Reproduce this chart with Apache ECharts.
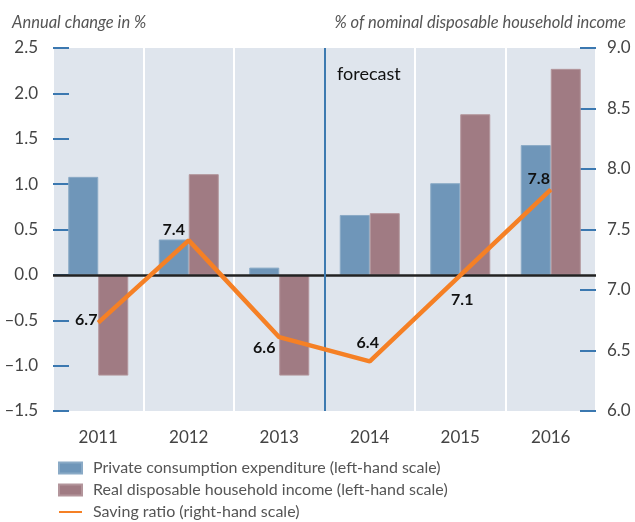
<!DOCTYPE html>
<html>
<head>
<meta charset="utf-8">
<script src="https://cdn.jsdelivr.net/npm/echarts@6/dist/echarts.min.js"></script>
<style>
  html, body { margin: 0; padding: 0; background: #fff; }
  #chart { width: 635px; height: 522px; }
</style>
</head>
<body>
<div id="chart"></div>
<script>
// data
const years = ['2011', '2012', '2013', '2014', '2015', '2016'];
const consumption = [1.08, 0.39, 0.08, 0.66, 1.01, 1.43];
const income = [-1.11, 1.11, -1.11, 0.68, 1.77, 2.27];
const savingRatio = [6.73, 7.41, 6.61, 6.41, 7.12, 7.83];
const forecastStart = 3; // boundary between 2013 and 2014

// where each saving-ratio label sits relative to its point
const labelOffsets = [[-12, -3], [-15, -11], [-15, 11], [-2, -19], [2, 24], [-12, -11]];

const FONT = 'Lato, "Open Sans", sans-serif';
const tickColor = '#3b78b0';

const fmt = (v) => v.toFixed(1).replace('-', '\u2013');

const chart = echarts.init(document.getElementById('chart'));

chart.setOption({
    animation: false,
    textStyle: { fontFamily: FONT },
    title: [
        {
            text: 'Annual change in %',
            left: 7, top: 9,
            textStyle: { fontFamily: FONT, fontSize: 16.5, fontStyle: 'italic', fontWeight: 'normal', color: '#555' }
        },
        {
            text: '% of nominal disposable household income',
            right: 4, top: 9,
            textStyle: { fontFamily: FONT, fontSize: 16.5, fontStyle: 'italic', fontWeight: 'normal', color: '#555' }
        },
        {
            text: 'forecast',
            left: 332, top: 60,
            textStyle: { fontFamily: FONT, fontSize: 18, fontWeight: 'normal', color: '#111' }
        }
    ],
    legend: {
        orient: 'vertical',
        left: 53, top: 455, height: 100,
        itemWidth: 23, itemHeight: 11, itemGap: 6,
        textStyle: { fontFamily: FONT, fontSize: 16, color: '#555', padding: [0, 0, 0, 6] },
        data: [
            { name: 'Private consumption expenditure (left-hand scale)', icon: 'rect' },
            { name: 'Real disposable household income (left-hand scale)', icon: 'rect' },
            { name: 'Saving ratio (right-hand scale)', itemStyle: { opacity: 0 } }
        ]
    },
    grid: {
        left: 53, right: 39, top: 48, bottom: 111,
        show: true, backgroundColor: '#dfe5ed', borderWidth: 0
    },
    xAxis: [
        {
            type: 'category',
            data: years,
            axisLine: { show: false },
            axisTick: { show: false },
            axisLabel: { fontFamily: FONT, fontSize: 17, color: '#444', margin: 18 },
            splitLine: { show: true, interval: 0, lineStyle: { color: '#fff', width: 2 } }
        },
        {
            type: 'value', min: 0, max: years.length, show: false
        }
    ],
    yAxis: [
        {
            type: 'value', min: -1.5, max: 2.5, interval: 0.5,
            axisLine: { show: false },
            axisTick: { show: true, inside: true, length: 16, lineStyle: { color: tickColor, width: 2 } },
            splitLine: { show: false },
            axisLabel: { fontFamily: FONT, fontSize: 17, color: '#444', margin: 15, formatter: fmt }
        },
        {
            type: 'value', min: 6, max: 9, interval: 0.5, position: 'right',
            axisLine: { show: false },
            axisTick: { show: true, inside: true, length: 16, lineStyle: { color: tickColor, width: 2 } },
            splitLine: { show: false },
            axisLabel: { fontFamily: FONT, fontSize: 17, color: '#444', margin: 11, formatter: fmt }
        }
    ],
    series: [
        {
            name: 'Private consumption expenditure (left-hand scale)',
            type: 'bar',
            data: consumption,
            barWidth: 30,
            barGap: '0%',
            itemStyle: { color: '#6f96b9', borderColor: '#8aaac6', borderWidth: 1 },
            markLine: {
                silent: true, symbol: 'none', label: { show: false },
                lineStyle: { color: '#222', width: 2.5, type: 'solid' },
                data: [{ yAxis: 0 }],
                z: 5
            }
        },
        {
            name: 'Real disposable household income (left-hand scale)',
            type: 'bar',
            data: income,
            barWidth: 30,
            itemStyle: { color: '#a07b83', borderColor: '#b3959b', borderWidth: 1 }
        },
        {
            name: 'forecast',
            type: 'line',
            xAxisIndex: 1,
            yAxisIndex: 0,
            data: [],
            markLine: {
                silent: true, symbol: 'none', label: { show: false },
                lineStyle: { color: '#3d7ab0', width: 2, type: 'solid' },
                data: [{ xAxis: forecastStart }]
            }
        },
        {
            name: 'Saving ratio (right-hand scale)',
            type: 'line',
            yAxisIndex: 1,
            data: savingRatio.map((v, i) => ({
                value: v,
                label: { offset: labelOffsets[i] }
            })),
            symbol: 'circle',
            symbolSize: 1,
            showSymbol: true,
            itemStyle: { color: '#f58025' },
            lineStyle: { color: '#f58025', width: 4.5 },
            z: 10,
            label: {
                show: true,
                position: 'inside',
                fontFamily: FONT,
                fontSize: 16,
                fontWeight: 'bold',
                color: '#111',
                formatter: (p) => p.value.toFixed(1)
            }
        }
    ]
});
</script>
</body>
</html>
